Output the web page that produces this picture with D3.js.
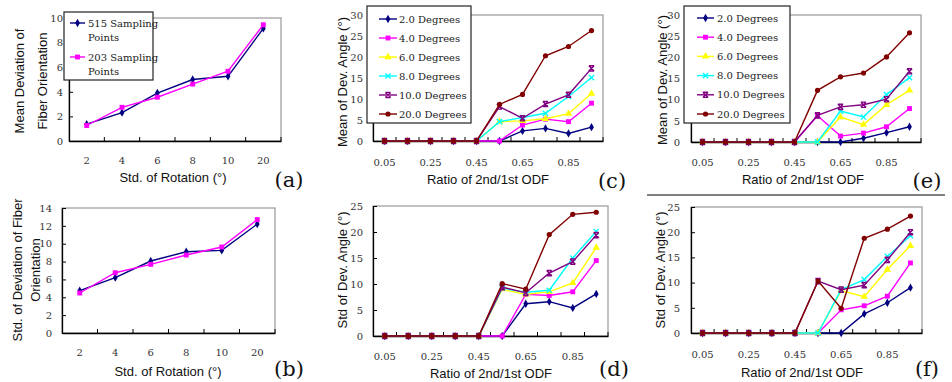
<!doctype html>
<html lang="en">
<head>
<meta charset="utf-8">
<title>Fiber orientation deviation</title>
<style>
  html, body { margin: 0; padding: 0; background: #fff; overflow: hidden; }
  svg { display: block; }
  .tick text { font-family: "DejaVu Serif", "Liberation Serif", serif; font-size: 10px; fill: #333; }
  .title { font-family: "Liberation Sans", Arial, sans-serif; font-size: 13px; fill: #111; }
  .panel { font-family: "DejaVu Serif", "Liberation Serif", serif; font-size: 21px; fill: #111; }
  .legend text { font-family: "DejaVu Serif", "Liberation Serif", serif; font-size: 10px; fill: #222; }
</style>
</head>
<body>
<svg id="chart" width="952" height="382"></svg>
<script src="https://cdn.jsdelivr.net/npm/d3@7"></script>
<script>
// ---- data ----
const rotCats = ["2", "4", "6", "8", "10", "20"];
const meanDev515 = [1.37, 2.3, 3.9, 5.0, 5.26, 9.15];
const meanDev203 = [1.26, 2.74, 3.56, 4.63, 5.67, 9.45];
const stdDev515 = [4.74, 6.2, 8.06, 9.1, 9.25, 12.2];
const stdDev203 = [4.48, 6.75, 7.69, 8.73, 9.63, 12.7];
const samplingLabels = [["515 Sampling", "Points"], ["203 Sampling", "Points"]];

const ratioCats = ["0.05", "0.15", "0.25", "0.35", "0.45", "0.55", "0.65", "0.75", "0.85", "0.95"];
const degLabels = ["2.0 Degrees", "4.0 Degrees", "6.0 Degrees", "8.0 Degrees", "10.0 Degrees", "20.0 Degrees"];

// rows: 2, 4, 6, 8, 10, 20 degrees
const meanC = [
    [0, 0, 0, 0, 0, 0, 2.4, 3.0, 1.8, 3.3],
    [0, 0, 0, 0, 0, 0, 3.8, 5.2, 4.6, 9.0],
    [0, 0, 0, 0, 0, 4.6, 4.8, 5.3, 6.5, 11.3],
    [0, 0, 0, 0, 0, 4.6, 5.6, 6.6, 10.6, 15.1],
    [0, 0, 0, 0, 0, 8.2, 5.4, 8.8, 11.0, 17.3],
    [0, 0, 0, 0, 0, 8.7, 11.1, 20.3, 22.5, 26.3]
];
const stdD = [
    [0, 0, 0, 0, 0, 0, 6.2, 6.6, 5.4, 8.1],
    [0, 0, 0, 0, 0, 0, 8.0, 7.8, 8.5, 14.5],
    [0, 0, 0, 0, 0, 9.0, 8.0, 8.5, 10.2, 17.0],
    [0, 0, 0, 0, 0, 9.2, 8.4, 8.8, 15.0, 20.1],
    [0, 0, 0, 0, 0, 9.4, 8.3, 12.1, 14.3, 19.4],
    [0, 0, 0, 0, 0, 10.1, 9.0, 19.5, 23.4, 23.8]
];
const meanE = [
    [0, 0, 0, 0, 0, 0, 0, 0.9, 2.2, 3.6],
    [0, 0, 0, 0, 0, 6.2, 1.4, 2.1, 3.6, 7.9],
    [0, 0, 0, 0, 0, 0, 5.9, 4.1, 8.8, 12.2],
    [0, 0, 0, 0, 0, 0, 7.3, 5.9, 11.2, 15.2],
    [0, 0, 0, 0, 0, 6.3, 8.3, 8.8, 10.1, 16.7],
    [0, 0, 0, 0, 0, 12.2, 15.4, 16.3, 20.1, 25.8]
];
const stdF = [
    [0, 0, 0, 0, 0, 0, 0, 3.8, 6.0, 9.0],
    [0, 0, 0, 0, 0, 0, 4.6, 5.4, 7.3, 13.9],
    [0, 0, 0, 0, 0, 0, 8.4, 7.2, 12.6, 17.3],
    [0, 0, 0, 0, 0, 0, 8.6, 10.6, 15.2, 19.3],
    [0, 0, 0, 0, 0, 10.3, 8.6, 9.5, 14.5, 20.0],
    [0, 0, 0, 0, 0, 10.3, 4.9, 18.8, 20.6, 23.2]
];

const degColors = ["#000080", "#ff00ff", "#ffff00", "#00ffff", "#800080", "#800000"];
const degMarkers = ["diamond", "square", "triangle", "x", "star", "circle"];

const svg = d3.select("#chart");

function drawMarker(g, type, cx, cy, color) {
    const t = `translate(${cx},${cy})`;
    if (type === "diamond") {
        g.append("path").attr("d", d3.symbol(d3.symbolDiamond, 20)()).attr("transform", t).attr("fill", color);
    } else if (type === "square") {
        g.append("path").attr("d", d3.symbol(d3.symbolSquare, 24)()).attr("transform", t).attr("fill", color);
    } else if (type === "triangle") {
        g.append("path").attr("d", d3.symbol(d3.symbolTriangle, 24)()).attr("transform", t).attr("fill", color);
    } else if (type === "circle") {
        g.append("circle").attr("cx", cx).attr("cy", cy).attr("r", 2.6).attr("fill", color);
    } else if (type === "x") {
        g.append("path").attr("d", "M-2.6,-2.6L2.6,2.6M-2.6,2.6L2.6,-2.6")
            .attr("transform", t).attr("stroke", color).attr("stroke-width", 1.4).attr("fill", "none");
    } else if (type === "star") {
        g.append("path").attr("d", "M-2.6,-2.6L2.6,2.6M-2.6,2.6L2.6,-2.6M-2.6,-2.6H2.6M-2.6,2.6H2.6")
            .attr("transform", t).attr("stroke", color).attr("stroke-width", 1.4).attr("fill", "none");
    }
}

function drawPanel(p) {
    const x = d3.scaleBand().domain(p.cats).range([p.left, p.right]);
    const y = d3.scaleLinear().domain([0, p.yMax]).range([p.bottom, p.top]);
    const g = svg.append("g");

    // plot area frame (grey)
    g.append("rect")
        .attr("x", p.left).attr("y", p.top)
        .attr("width", p.right - p.left).attr("height", p.bottom - p.top)
        .attr("fill", "none").attr("stroke", "#a0a0a0").attr("stroke-width", 1.3);

    // x axis, labels at category centres
    const xa = g.append("g").attr("transform", `translate(0,${p.bottom})`)
        .call(d3.axisBottom(x).tickSize(0).tickSizeOuter(0).tickPadding(p.xPad)
            .tickFormat((d, i) => i % p.every === 0 ? d : ""));
    xa.attr("font-family", null).attr("font-size", null);
    xa.select(".domain").attr("stroke", "#000").attr("stroke-width", 1.3);
    // tick marks on category boundaries, pointing up
    xa.selectAll("line.bt").data(d3.range(1, p.cats.length + 1)).join("line")
        .attr("class", "bt")
        .attr("x1", i => p.left + i * x.step()).attr("x2", i => p.left + i * x.step())
        .attr("y1", 0).attr("y2", -4)
        .attr("stroke", "#000").attr("stroke-width", 1);

    // y axis
    const ya = g.append("g").attr("transform", `translate(${p.left},0)`)
        .call(d3.axisLeft(y).tickValues(d3.range(0, p.yMax + 0.001, p.yStep))
            .tickSizeInner(-4).tickSizeOuter(0).tickPadding(p.yPad));
    ya.attr("font-family", null).attr("font-size", null);
    ya.select(".domain").attr("stroke", "#000").attr("stroke-width", 1.3);
    ya.selectAll(".tick line").attr("stroke", "#000");

    // series
    const line = d3.line()
        .x((d, i) => x(p.cats[i]) + x.bandwidth() / 2)
        .y(d => y(d));
    p.series.forEach(s => {
        g.append("path").datum(s.values)
            .attr("d", line)
            .attr("fill", "none").attr("stroke", s.color).attr("stroke-width", 1.4);
        s.values.forEach((v, i) => {
            drawMarker(g, s.marker, x(p.cats[i]) + x.bandwidth() / 2, y(v), s.color);
        });
    });

    // titles
    g.append("text").attr("class", "title")
        .attr("x", p.xTitle[0]).attr("y", p.xTitle[1])
        .attr("text-anchor", "middle").attr("dominant-baseline", "central")
        .text(p.xLabel);
    p.yLabel.forEach((txt, k) => {
        g.append("text").attr("class", "title")
            .attr("transform", `translate(${p.yTitleX[k]},${p.yTitleY}) rotate(-90)`)
            .attr("text-anchor", "middle").attr("dominant-baseline", "central")
            .text(txt);
    });
    g.append("text").attr("class", "panel")
        .attr("x", p.tag[0]).attr("y", p.tag[1])
        .attr("text-anchor", "middle").attr("dominant-baseline", "central")
        .text(p.tagText);

    // legend
    if (p.legend) {
        const L = p.legend;
        const lg = g.append("g").attr("class", "legend");
        lg.append("rect")
            .attr("x", L.box[0]).attr("y", L.box[1])
            .attr("width", L.box[2] - L.box[0]).attr("height", L.box[3] - L.box[1])
            .attr("fill", "#fff").attr("stroke", "#222").attr("stroke-width", 1.2);
        p.series.forEach((s, i) => {
            const ry = L.y0 + i * L.dy;
            lg.append("line")
                .attr("x1", L.lx[0]).attr("x2", L.lx[1]).attr("y1", ry).attr("y2", ry)
                .attr("stroke", s.color).attr("stroke-width", 1.4);
            drawMarker(lg, s.marker, (L.lx[0] + L.lx[1]) / 2, ry, s.color);
            const lines = Array.isArray(L.labels[i]) ? L.labels[i] : [L.labels[i]];
            lines.forEach((t, k) => {
                lg.append("text")
                    .attr("x", L.tx).attr("y", ry + k * 14)
                    .attr("dominant-baseline", "central")
                    .text(t);
            });
        });
    }
}

const degSeries = rows => rows.map((vals, i) => ({ values: vals, color: degColors[i], marker: degMarkers[i] }));

drawPanel({
    cats: rotCats, left: 69, right: 281, top: 18, bottom: 141, yMax: 10, yStep: 2,
    xPad: 16, yPad: 6, every: 1,
    series: [
        { values: meanDev515, color: "#000080", marker: "diamond" },
        { values: meanDev203, color: "#ff00ff", marker: "square" }
    ],
    xLabel: "Std. of Rotation (°)", xTitle: [173, 177],
    yLabel: ["Mean Deviation of", "Fiber Orientation"], yTitleX: [19, 42], yTitleY: 81,
    tagText: "(a)", tag: [289, 180],
    legend: { box: [64, 12, 153, 80], y0: 23, dy: 34, lx: [70, 85], tx: 88, labels: samplingLabels }
});

drawPanel({
    cats: rotCats, left: 62, right: 275, top: 208, bottom: 333, yMax: 14, yStep: 2,
    xPad: 16, yPad: 10, every: 1,
    series: [
        { values: stdDev515, color: "#000080", marker: "diamond" },
        { values: stdDev203, color: "#ff00ff", marker: "square" }
    ],
    xLabel: "Std. of Rotation (°)", xTitle: [168, 371],
    yLabel: ["Std. of Deviation of Fiber", "Orientation"], yTitleX: [17.5, 35.5], yTitleY: 270,
    tagText: "(b)", tag: [289, 369]
});

drawPanel({
    cats: ratioCats, left: 373, right: 603, top: 15, bottom: 141, yMax: 30, yStep: 5,
    xPad: 18, yPad: 10, every: 2,
    series: degSeries(meanC),
    xLabel: "Ratio of 2nd/1st ODF", xTitle: [488, 179],
    yLabel: ["Mean of Dev. Angle (°)"], yTitleX: [342], yTitleY: 82,
    tagText: "(c)", tag: [612, 181],
    legend: { box: [367, 6, 471, 123], y0: 19, dy: 19, lx: [379, 397], tx: 399, labels: degLabels }
});

drawPanel({
    cats: ratioCats, left: 373, right: 608, top: 206, bottom: 336, yMax: 25, yStep: 5,
    xPad: 17, yPad: 10, every: 2,
    series: degSeries(stdD),
    xLabel: "Ratio of 2nd/1st ODF", xTitle: [491, 373],
    yLabel: ["Std of Dev. Angle (°)"], yTitleX: [342], yTitleY: 270,
    tagText: "(d)", tag: [614, 369]
});

drawPanel({
    cats: ratioCats, left: 691, right: 921, top: 15, bottom: 142, yMax: 30, yStep: 5,
    xPad: 17, yPad: 11, every: 2,
    series: degSeries(meanE),
    xLabel: "Ratio of 2nd/1st ODF", xTitle: [803, 179],
    yLabel: ["Mean of Dev. Angle (°)"], yTitleX: [662], yTitleY: 80,
    tagText: "(e)", tag: [927, 181],
    legend: { box: [684, 6, 790, 123], y0: 18, dy: 19.2, lx: [697, 714], tx: 717, labels: degLabels }
});

drawPanel({
    cats: ratioCats, left: 691, right: 922, top: 207, bottom: 333, yMax: 25, yStep: 5,
    xPad: 18, yPad: 11, every: 2,
    series: degSeries(stdF),
    xLabel: "Ratio of 2nd/1st ODF", xTitle: [802, 372],
    yLabel: ["Std of Dev. Angle (°)"], yTitleX: [660], yTitleY: 270,
    tagText: "(f)", tag: [927, 369]
});

// separator rule under panel (e)
svg.append("line")
    .attr("x1", 647).attr("x2", 945).attr("y1", 195).attr("y2", 195)
    .attr("stroke", "#000").attr("stroke-width", 1);
</script>
</body>
</html>
